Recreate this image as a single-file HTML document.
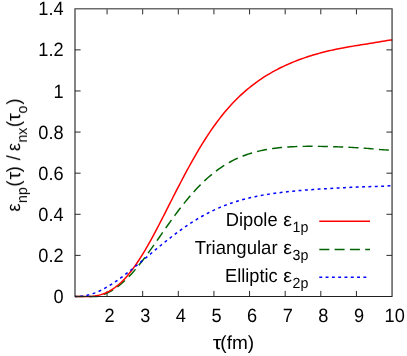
<!DOCTYPE html>
<html><head><meta charset="utf-8">
<style>
html,body{margin:0;padding:0;background:#fff;}
svg{display:block;}
text{font-family:"Liberation Sans",sans-serif;fill:#000;}
</style></head>
<body>
<svg width="407" height="356" viewBox="0 0 407 356">
<rect width="407" height="356" fill="#fff"/>
<path d="M75.0,255.39h5.6 M392.05,255.39h-5.6 M75.0,214.29h5.6 M392.05,214.29h-5.6 M75.0,173.18h5.6 M392.05,173.18h-5.6 M75.0,132.07h5.6 M392.05,132.07h-5.6 M75.0,90.96h5.6 M392.05,90.96h-5.6 M75.0,49.86h5.6 M392.05,49.86h-5.6 M107.06,296.5v-5.6 M107.06,8.75v5.6 M142.68,296.5v-5.6 M142.68,8.75v5.6 M178.31,296.5v-5.6 M178.31,8.75v5.6 M213.93,296.5v-5.6 M213.93,8.75v5.6 M249.56,296.5v-5.6 M249.56,8.75v5.6 M285.18,296.5v-5.6 M285.18,8.75v5.6 M320.80,296.5v-5.6 M320.80,8.75v5.6 M356.43,296.5v-5.6 M356.43,8.75v5.6" fill="none" stroke="#202020" stroke-width="0.95"/>
<path d="M75.0,296.50 L77.0,296.50 L79.0,296.49 L81.0,296.50 L83.0,296.50 L85.0,296.50 L87.0,296.50 L89.0,296.50 L91.0,296.50 L93.0,296.50 L95.0,296.50 L97.0,296.42 L99.0,295.98 L101.0,295.43 L103.0,294.78 L105.0,294.03 L107.0,293.16 L109.0,292.18 L111.0,291.10 L113.0,289.90 L115.0,288.59 L117.0,287.18 L119.0,285.65 L121.0,284.02 L123.0,282.29 L125.0,280.46 L127.0,278.52 L129.0,276.50 L131.0,274.38 L133.0,272.17 L135.0,269.88 L137.0,267.51 L139.0,265.06 L141.0,262.55 L143.0,259.97 L145.0,257.33 L147.0,254.64 L149.0,251.90 L151.0,249.12 L153.0,246.31 L155.0,243.47 L157.0,240.61 L159.0,237.74 L161.0,234.87 L163.0,232.00 L165.0,229.14 L167.0,226.29 L169.0,223.46 L171.0,220.66 L173.0,217.89 L175.0,215.15 L177.0,212.46 L179.0,209.80 L181.0,207.20 L183.0,204.64 L185.0,202.13 L187.0,199.68 L189.0,197.29 L191.0,194.96 L193.0,192.69 L195.0,190.47 L197.0,188.33 L199.0,186.24 L201.0,184.22 L203.0,182.26 L205.0,180.37 L207.0,178.54 L209.0,176.78 L211.0,175.08 L213.0,173.44 L215.0,171.87 L217.0,170.36 L219.0,168.91 L221.0,167.53 L223.0,166.21 L225.0,164.94 L227.0,163.73 L229.0,162.58 L231.0,161.49 L233.0,160.45 L235.0,159.46 L237.0,158.53 L239.0,157.64 L241.0,156.80 L243.0,156.01 L245.0,155.26 L247.0,154.55 L249.0,153.88 L251.0,153.25 L253.0,152.66 L255.0,152.11 L257.0,151.59 L259.0,151.11 L261.0,150.65 L263.0,150.23 L265.0,149.83 L267.0,149.47 L269.0,149.13 L271.0,148.81 L273.0,148.52 L275.0,148.26 L277.0,148.01 L279.0,147.79 L281.0,147.59 L283.0,147.40 L285.0,147.23 L287.0,147.08 L289.0,146.95 L291.0,146.83 L293.0,146.73 L295.0,146.64 L297.0,146.56 L299.0,146.49 L301.0,146.44 L303.0,146.39 L305.0,146.36 L307.0,146.34 L309.0,146.32 L311.0,146.31 L313.0,146.31 L315.0,146.32 L317.0,146.34 L319.0,146.36 L321.0,146.39 L323.0,146.42 L325.0,146.46 L327.0,146.50 L329.0,146.55 L331.0,146.60 L333.0,146.66 L335.0,146.72 L337.0,146.79 L339.0,146.86 L341.0,146.94 L343.0,147.02 L345.0,147.10 L347.0,147.19 L349.0,147.29 L351.0,147.39 L353.0,147.49 L355.0,147.60 L357.0,147.71 L359.0,147.83 L361.0,147.96 L363.0,148.09 L365.0,148.23 L367.0,148.37 L369.0,148.52 L371.0,148.68 L373.0,148.85 L375.0,149.03 L377.0,149.22 L379.0,149.42 L381.0,149.62 L383.0,149.78 L385.0,149.90 L387.0,150.01 L389.0,150.13 L391.0,150.26 L392.3,150.36" fill="none" stroke="#006400" stroke-width="1.45" stroke-dasharray="10.05 5.23" stroke-dashoffset="1.2" stroke-linejoin="round"/>
<path d="M75.0,296.50 L77.0,296.50 L79.0,296.50 L81.0,296.50 L83.0,296.50 L85.0,296.50 L87.0,296.50 L89.0,296.50 L91.0,296.39 L93.0,296.20 L95.0,295.94 L97.0,295.59 L99.0,295.15 L101.0,294.61 L103.0,293.96 L105.0,293.20 L107.0,292.32 L109.0,291.31 L111.0,290.18 L113.0,288.91 L115.0,287.50 L117.0,285.96 L119.0,284.28 L121.0,282.47 L123.0,280.51 L125.0,278.41 L127.0,276.18 L129.0,273.81 L131.0,271.31 L133.0,268.68 L135.0,265.92 L137.0,263.03 L139.0,260.03 L141.0,256.91 L143.0,253.68 L145.0,250.35 L147.0,246.93 L149.0,243.41 L151.0,239.81 L153.0,236.14 L155.0,232.40 L157.0,228.61 L159.0,224.77 L161.0,220.89 L163.0,216.99 L165.0,213.06 L167.0,209.12 L169.0,205.17 L171.0,201.22 L173.0,197.28 L175.0,193.36 L177.0,189.45 L179.0,185.58 L181.0,181.73 L183.0,177.92 L185.0,174.15 L187.0,170.42 L189.0,166.75 L191.0,163.13 L193.0,159.56 L195.0,156.06 L197.0,152.61 L199.0,149.23 L201.0,145.92 L203.0,142.68 L205.0,139.50 L207.0,136.40 L209.0,133.37 L211.0,130.42 L213.0,127.54 L215.0,124.73 L217.0,122.00 L219.0,119.35 L221.0,116.77 L223.0,114.27 L225.0,111.84 L227.0,109.48 L229.0,107.20 L231.0,104.98 L233.0,102.84 L235.0,100.77 L237.0,98.76 L239.0,96.81 L241.0,94.92 L243.0,93.10 L245.0,91.33 L247.0,89.62 L249.0,87.96 L251.0,86.36 L253.0,84.81 L255.0,83.30 L257.0,81.84 L259.0,80.43 L261.0,79.07 L263.0,77.74 L265.0,76.46 L267.0,75.22 L269.0,74.02 L271.0,72.85 L273.0,71.72 L275.0,70.62 L277.0,69.56 L279.0,68.53 L281.0,67.53 L283.0,66.57 L285.0,65.63 L287.0,64.72 L289.0,63.83 L291.0,62.98 L293.0,62.15 L295.0,61.34 L297.0,60.56 L299.0,59.80 L301.0,59.06 L303.0,58.35 L305.0,57.66 L307.0,56.98 L309.0,56.33 L311.0,55.70 L313.0,55.08 L315.0,54.49 L317.0,53.91 L319.0,53.36 L321.0,52.82 L323.0,52.29 L325.0,51.79 L327.0,51.30 L329.0,50.82 L331.0,50.36 L333.0,49.92 L335.0,49.49 L337.0,49.07 L339.0,48.67 L341.0,48.27 L343.0,47.89 L345.0,47.52 L347.0,47.16 L349.0,46.81 L351.0,46.46 L353.0,46.13 L355.0,45.79 L357.0,45.47 L359.0,45.15 L361.0,44.83 L363.0,44.51 L365.0,44.20 L367.0,43.89 L369.0,43.57 L371.0,43.26 L373.0,42.94 L375.0,42.61 L377.0,42.28 L379.0,41.95 L381.0,41.61 L383.0,41.25 L385.0,40.89 L387.0,40.58 L389.0,40.34 L391.0,40.11 L392.3,39.94" fill="none" stroke="#ff0000" stroke-width="1.5" stroke-linejoin="round"/>
<path d="M75.0,296.42 L77.0,296.37 L79.0,296.24 L81.0,296.13 L83.0,295.95 L85.0,295.67 L87.0,295.29 L89.0,294.82 L91.0,294.26 L93.0,293.61 L95.0,292.88 L97.0,292.08 L99.0,291.20 L101.0,290.25 L103.0,289.24 L105.0,288.16 L107.0,287.03 L109.0,285.84 L111.0,284.60 L113.0,283.31 L115.0,281.97 L117.0,280.59 L119.0,279.17 L121.0,277.72 L123.0,276.23 L125.0,274.72 L127.0,273.17 L129.0,271.61 L131.0,270.02 L133.0,268.41 L135.0,266.78 L137.0,265.14 L139.0,263.49 L141.0,261.83 L143.0,260.17 L145.0,258.49 L147.0,256.82 L149.0,255.15 L151.0,253.48 L153.0,251.81 L155.0,250.15 L157.0,248.49 L159.0,246.85 L161.0,245.21 L163.0,243.59 L165.0,241.98 L167.0,240.39 L169.0,238.82 L171.0,237.26 L173.0,235.72 L175.0,234.21 L177.0,232.71 L179.0,231.25 L181.0,229.80 L183.0,228.38 L185.0,226.99 L187.0,225.62 L189.0,224.28 L191.0,222.97 L193.0,221.69 L195.0,220.44 L197.0,219.22 L199.0,218.02 L201.0,216.86 L203.0,215.73 L205.0,214.64 L207.0,213.57 L209.0,212.54 L211.0,211.53 L213.0,210.56 L215.0,209.62 L217.0,208.71 L219.0,207.83 L221.0,206.99 L223.0,206.17 L225.0,205.38 L227.0,204.62 L229.0,203.90 L231.0,203.19 L233.0,202.52 L235.0,201.87 L237.0,201.25 L239.0,200.65 L241.0,200.08 L243.0,199.53 L245.0,199.00 L247.0,198.49 L249.0,198.01 L251.0,197.54 L253.0,197.09 L255.0,196.66 L257.0,196.25 L259.0,195.86 L261.0,195.48 L263.0,195.12 L265.0,194.77 L267.0,194.44 L269.0,194.12 L271.0,193.81 L273.0,193.52 L275.0,193.24 L277.0,192.97 L279.0,192.71 L281.0,192.46 L283.0,192.22 L285.0,191.99 L287.0,191.77 L289.0,191.55 L291.0,191.35 L293.0,191.15 L295.0,190.96 L297.0,190.78 L299.0,190.60 L301.0,190.43 L303.0,190.27 L305.0,190.11 L307.0,189.95 L309.0,189.80 L311.0,189.66 L313.0,189.52 L315.0,189.38 L317.0,189.24 L319.0,189.11 L321.0,188.99 L323.0,188.86 L325.0,188.74 L327.0,188.62 L329.0,188.50 L331.0,188.39 L333.0,188.28 L335.0,188.17 L337.0,188.06 L339.0,187.96 L341.0,187.85 L343.0,187.75 L345.0,187.65 L347.0,187.55 L349.0,187.46 L351.0,187.37 L353.0,187.27 L355.0,187.19 L357.0,187.10 L359.0,187.01 L361.0,186.93 L363.0,186.85 L365.0,186.77 L367.0,186.70 L369.0,186.63 L371.0,186.56 L373.0,186.50 L375.0,186.44 L377.0,186.38 L379.0,186.33 L381.0,186.27 L383.0,186.19 L385.0,186.09 L387.0,185.98 L389.0,185.87 L391.0,185.77 L392.3,185.71" fill="none" stroke="#0000ff" stroke-width="1.5" stroke-dasharray="2.9 3.46" stroke-dashoffset="1.2" stroke-linejoin="round"/>
<path d="M75.0,8.75V296.5H392.05V8.75" fill="none" stroke="#202020" stroke-width="1.1" stroke-linejoin="round"/>
<path d="M74.5,8.7H392.55" fill="none" stroke="#6c6c6c" stroke-width="1.5"/>
<g opacity="0.999" text-rendering="geometricPrecision">
<text transform="translate(63.60,303.10) scale(1.0,1.055)" font-size="18.2" text-anchor="end">0</text>
<text transform="translate(63.60,261.99) scale(1.0,1.055)" font-size="18.2" text-anchor="end">0.2</text>
<text transform="translate(63.60,220.89) scale(1.0,1.055)" font-size="18.2" text-anchor="end">0.4</text>
<text transform="translate(63.60,179.78) scale(1.0,1.055)" font-size="18.2" text-anchor="end">0.6</text>
<text transform="translate(63.60,138.67) scale(1.0,1.055)" font-size="18.2" text-anchor="end">0.8</text>
<text transform="translate(63.60,97.56) scale(1.0,1.055)" font-size="18.2" text-anchor="end">1</text>
<text transform="translate(63.60,56.46) scale(1.0,1.055)" font-size="18.2" text-anchor="end">1.2</text>
<text transform="translate(63.60,15.35) scale(1.0,1.055)" font-size="18.2" text-anchor="end">1.4</text>

<text transform="translate(109.66,321.60) scale(1.0,1.055)" font-size="18.2" text-anchor="middle">2</text>
<text transform="translate(145.28,321.60) scale(1.0,1.055)" font-size="18.2" text-anchor="middle">3</text>
<text transform="translate(180.91,321.60) scale(1.0,1.055)" font-size="18.2" text-anchor="middle">4</text>
<text transform="translate(216.53,321.60) scale(1.0,1.055)" font-size="18.2" text-anchor="middle">5</text>
<text transform="translate(252.16,321.60) scale(1.0,1.055)" font-size="18.2" text-anchor="middle">6</text>
<text transform="translate(287.78,321.60) scale(1.0,1.055)" font-size="18.2" text-anchor="middle">7</text>
<text transform="translate(323.40,321.60) scale(1.0,1.055)" font-size="18.2" text-anchor="middle">8</text>
<text transform="translate(359.03,321.60) scale(1.0,1.055)" font-size="18.2" text-anchor="middle">9</text>
<text transform="translate(394.65,321.60) scale(1.0,1.055)" font-size="18.2" text-anchor="middle">10</text>

<text transform="translate(212.80,349.20) scale(1.22,1.04)" font-size="18.2" text-anchor="start">τ</text>
<text transform="translate(220.35,349.20) scale(1.045,1.04)" font-size="18.2" text-anchor="start">(fm)</text>

<g transform="translate(20.0,155.1) rotate(-90)"><text transform="translate(-56.40,0.00) scale(1.0,1.04)" font-size="18.2" text-anchor="start">ε</text>
<text transform="translate(-47.90,7.00) scale(1.0,1.04)" font-size="14.2" text-anchor="start">np</text>
<text transform="translate(-31.60,0.00) scale(1.0,1.04)" font-size="18.2" text-anchor="start">(</text>
<text transform="translate(-24.40,0.00) scale(1.1,1.04)" font-size="18.2" text-anchor="start">τ</text>
<text transform="translate(-17.30,0.00) scale(1.0,1.04)" font-size="18.2" text-anchor="start">)</text>
<text transform="translate(-5.20,0.00) scale(1.0,1.04)" font-size="18.2" text-anchor="start">/</text>
<text transform="translate(4.10,0.00) scale(1.0,1.04)" font-size="18.2" text-anchor="start">ε</text>
<text transform="translate(12.40,7.00) scale(1.0,1.04)" font-size="14.2" text-anchor="start">nx</text>
<text transform="translate(27.90,0.00) scale(1.0,1.04)" font-size="18.2" text-anchor="start">(</text>
<text transform="translate(34.10,0.00) scale(1.1,1.04)" font-size="18.2" text-anchor="start">τ</text>
<text transform="translate(41.50,7.00) scale(1.0,1.04)" font-size="14.2" text-anchor="start">o</text>
<text transform="translate(50.40,0.00) scale(1.0,1.04)" font-size="18.2" text-anchor="start">)</text>
</g>
<text transform="translate(277.60,225.80) scale(1.005,1.04)" font-size="18.2" text-anchor="end">Dipole</text>
<text transform="translate(283.20,225.80) scale(1.08,1.04)" font-size="18.2" text-anchor="start">ε</text>
<text transform="translate(292.60,231.60) scale(1.0,1.04)" font-size="14.2" text-anchor="start">1p</text>
<text transform="translate(277.60,253.90) scale(1.02,1.04)" font-size="18.2" text-anchor="end">Triangular</text>
<text transform="translate(283.20,253.90) scale(1.08,1.04)" font-size="18.2" text-anchor="start">ε</text>
<text transform="translate(292.60,259.70) scale(1.0,1.04)" font-size="14.2" text-anchor="start">3p</text>
<text transform="translate(277.60,282.00) scale(1.0,1.04)" font-size="18.2" text-anchor="end">Elliptic</text>
<text transform="translate(283.20,282.00) scale(1.08,1.04)" font-size="18.2" text-anchor="start">ε</text>
<text transform="translate(292.60,287.80) scale(1.0,1.04)" font-size="14.2" text-anchor="start">2p</text>

</g>
<path d="M319.3,221.2H370" stroke="#ff0000" stroke-width="1.5" fill="none"/>
<path d="M319.3,249.4H370" stroke="#006400" stroke-width="1.45" stroke-dasharray="10 5.3" fill="none"/>
<path d="M319.3,277.2H367" stroke="#0000ff" stroke-width="1.5" stroke-dasharray="2.9 3.4" fill="none"/>
</svg>
</body></html>
